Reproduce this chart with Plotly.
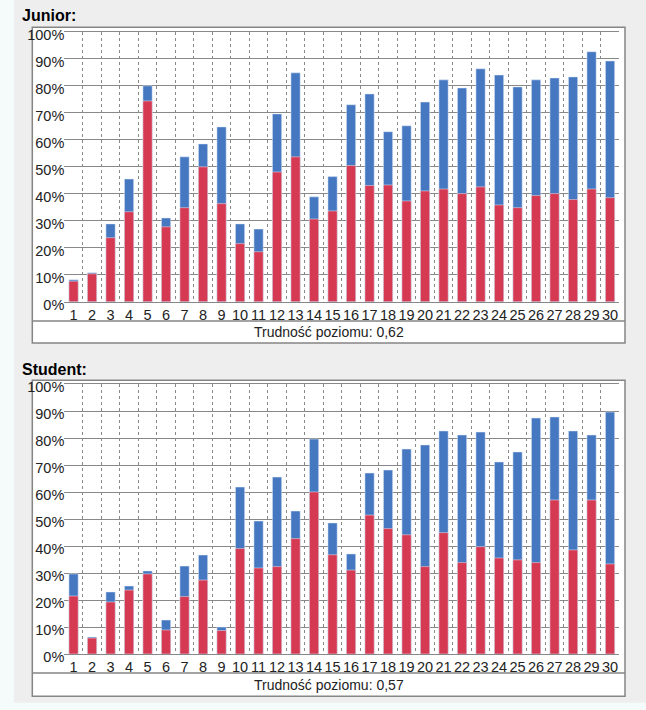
import plotly.graph_objects as go

W, H = 646, 710

# --- DATA ---
categories = [str(i) for i in range(1, 31)]

# Junior: total height of the bar (blue) and the red part
junior_total = [8.1, 10.7, 28.8, 45.4, 79.9, 31.0, 53.6, 58.4, 64.7, 28.8,
                26.9, 69.5, 84.7, 38.8, 46.3, 72.9, 76.9, 62.9, 65.1, 73.9,
                82.1, 79.1, 86.2, 83.9, 79.5, 82.1, 82.8, 83.2, 92.5, 89.1]
junior_red = [7.6, 10.3, 23.7, 33.3, 74.3, 27.7, 34.8, 49.9, 36.3, 21.5,
              18.5, 48.0, 53.6, 30.6, 33.6, 50.4, 43.0, 43.2, 37.3, 41.0,
              41.7, 40.0, 42.5, 35.8, 34.8, 39.3, 40.0, 37.8, 41.7, 38.5]

# Student
student_total = [29.7, 6.3, 23.0, 25.2, 30.8, 12.6, 32.6, 36.7, 10.0, 61.9,
                 49.3, 65.6, 53.0, 79.7, 48.6, 37.1, 67.1, 68.2, 76.0, 77.5,
                 82.7, 81.2, 82.3, 71.2, 74.9, 87.5, 87.9, 82.7, 81.2, 89.7]
student_red = [21.5, 5.9, 19.3, 23.7, 29.7, 8.9, 21.3, 27.4, 8.7, 39.1,
               31.9, 32.4, 42.8, 60.1, 36.8, 31.1, 51.5, 46.5, 44.2, 32.4,
               45.0, 33.9, 39.8, 35.6, 34.9, 33.9, 57.1, 38.6, 57.1, 33.4]

panels = [("Junior:", "Trudność poziomu: 0,62"), ("Student:", "Trudność poziomu: 0,57")]

BLUE = "#4678c2"
RED = "#d63a53"
GRID = "#888888"
FONT = "Liberation Sans, Arial, sans-serif"


def px(x):
    return x / W


def py(y):
    return 1 - y / H


fig = go.Figure()

series = [(junior_total, junior_red), (student_total, student_red)]
for i, (tot, red) in enumerate(series):
    ax = "" if i == 0 else "2"
    fig.add_trace(go.Bar(x=categories, y=tot, marker_color=BLUE, width=0.5,
                         xaxis="x" + ax, yaxis="y" + ax, showlegend=False))
    fig.add_trace(go.Bar(x=categories, y=red, marker_color=RED, width=0.5,
                         xaxis="x" + ax, yaxis="y" + ax, showlegend=False))

# plot areas in page pixels: (top, bottom)
areas = [(31.5, 301.7), (384.3, 654.0)]
# outer boxes: (top, divider, bottom)
boxes = [(27.3, 321.0, 343.0), (380.3, 673.0, 696.3)]
title_y = [15.5, 369.3]

xaxis_style = dict(type="category", tickson="boundaries", showgrid=True,
                   gridcolor=GRID, griddash="3px,3px", gridwidth=1,
                   showline=True, mirror=True, linecolor=GRID, linewidth=1,
                   ticks="", tickangle=0, automargin=False,
                   tickfont=dict(family=FONT, size=14.5, color="#222"),
                   domain=[px(64.3), px(619.3)], fixedrange=True)
yaxis_style = dict(range=[0, 100], dtick=10, ticksuffix="%", showgrid=True,
                   gridcolor=GRID, gridwidth=1, zeroline=False, ticks="",
                   automargin=False,
                   tickfont=dict(family=FONT, size=14.5, color="#222"),
                   ticklabelstandoff=-1, ticklabelshift=3, fixedrange=True)

layout = dict(
    width=W, height=H,
    margin=dict(l=0, r=0, t=0, b=0),
    paper_bgcolor="#f5fafb",
    plot_bgcolor="white",
    barmode="overlay",
    showlegend=False,
)

shapes = [dict(type="rect", xref="paper", yref="paper", x0=px(14), x1=1,
               y0=py(702.7), y1=1, fillcolor="#eeeeee", line_width=0, layer="below")]
annotations = []
for i, ((top, bot), (btop, bdiv, bbot), (ttl, cap)) in enumerate(zip(areas, boxes, panels)):
    sfx = "" if i == 0 else "2"
    layout["xaxis" + sfx] = dict(xaxis_style, anchor="y" + sfx)
    layout["yaxis" + sfx] = dict(yaxis_style, anchor="x" + sfx, domain=[py(bot), py(top)])
    shapes.append(dict(type="rect", xref="paper", yref="paper",
                       x0=px(32.3), x1=px(625), y0=py(bbot), y1=py(btop),
                       fillcolor="white", line=dict(color="#858585", width=1.5),
                       layer="below"))
    shapes.append(dict(type="line", xref="paper", yref="paper",
                       x0=px(32.3), x1=px(625), y0=py(bdiv), y1=py(bdiv),
                       line=dict(color="#858585", width=1.5), layer="below"))
    annotations.append(dict(text="<b>" + ttl + "</b>", xref="paper", yref="paper",
                            x=px(20), y=py(title_y[i]), xanchor="left", yanchor="middle",
                            showarrow=False, font=dict(family=FONT, size=16, color="black")))
    annotations.append(dict(text=cap, xref="paper", yref="paper",
                            x=px(328.6), y=py((bdiv + bbot) / 2), xanchor="center",
                            yanchor="middle", showarrow=False,
                            font=dict(family=FONT, size=14, color="#222")))

layout["shapes"] = shapes
layout["annotations"] = annotations
fig.update_layout(**layout)

# drop the default page margin so the figure sits at the top-left corner
fig.write_html("out.html", config={"displayModeBar": False},
               post_script="document.body.style.margin='0';document.body.style.overflow='hidden';")
